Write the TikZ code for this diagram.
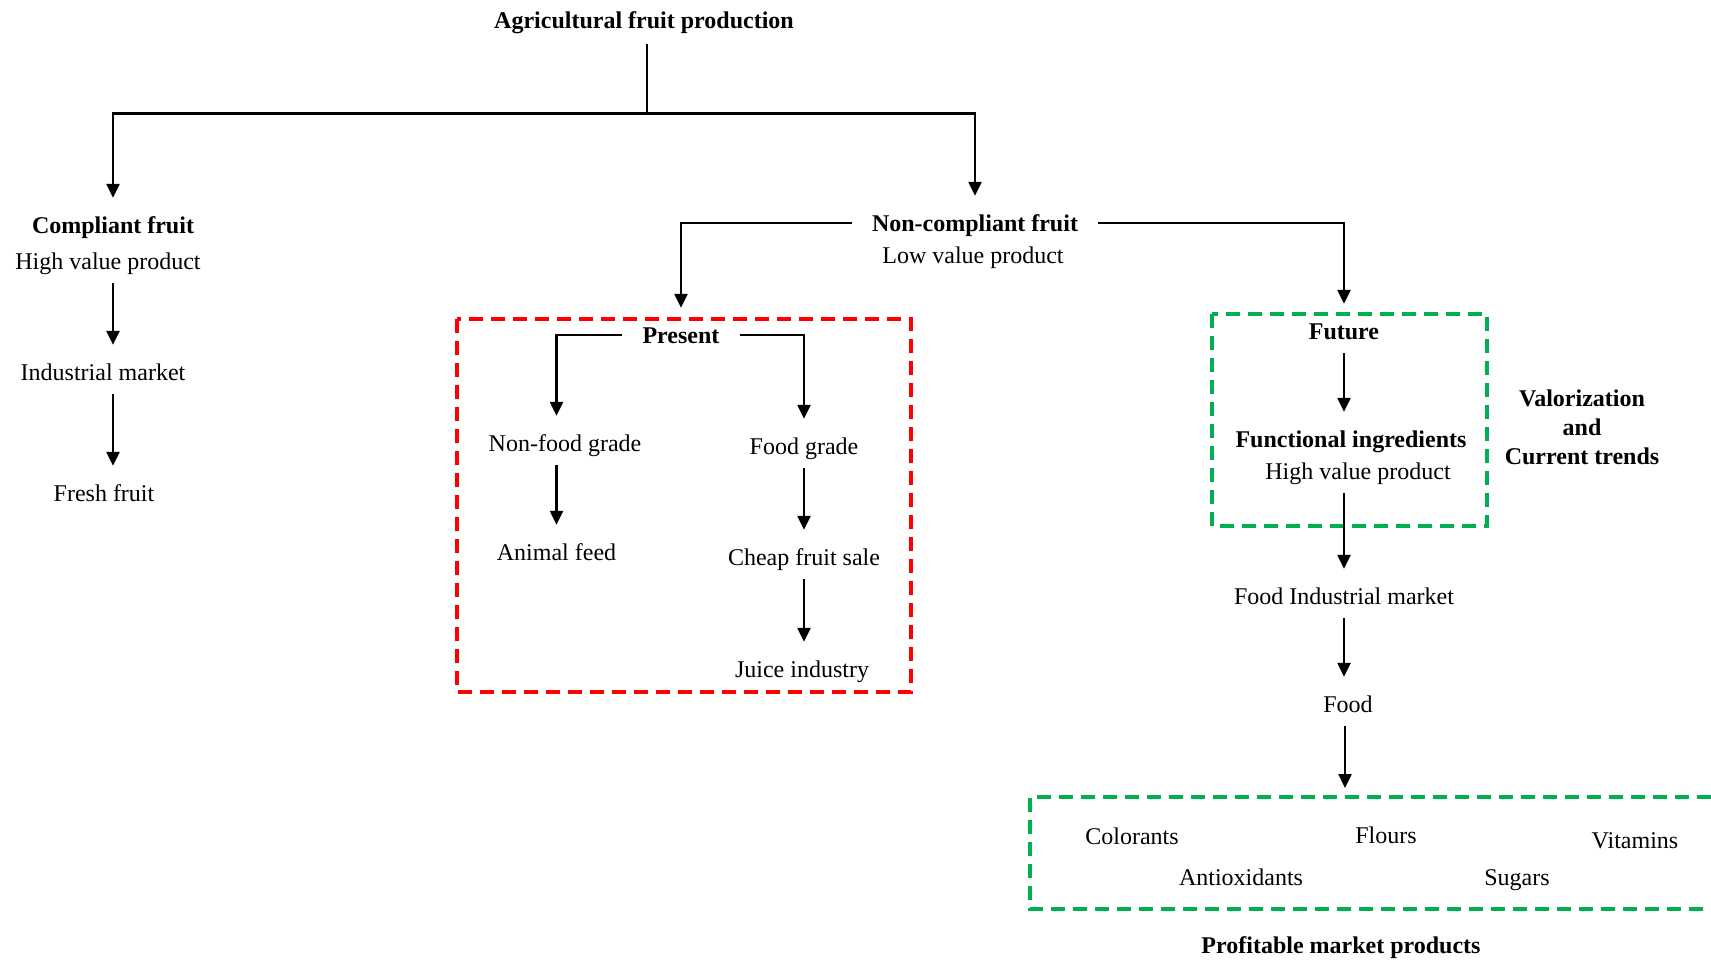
\documentclass[tikz,border=0pt]{standalone}
\usepackage{fontspec}
\setmainfont{Liberation Serif}
\usetikzlibrary{arrows.meta}
\usetikzlibrary{positioning}
\definecolor{boxgreen}{RGB}{0,176,80}

\begin{document}
\begin{tikzpicture}[x=1pt,y=-1pt,
  lbl/.style={font=\fontsize{24}{28}\selectfont,inner sep=0pt,text height=19pt,text depth=3pt},
  hdr/.style={lbl,font=\fontsize{24}{28}\selectfont\bfseries},
  flow/.style={line width=2.4pt,-{Triangle[length=14pt,width=13pt]},shorten <=11pt,shorten >=16pt},
  branch/.style={flow,shorten <=20pt},
  redbox/.style={draw=red,line width=3.5pt,dash pattern=on 14pt off 8pt},
  greenbox/.style={draw=boxgreen,line width=3.5pt,dash pattern=on 14pt off 8pt}]
\useasboundingbox (0,0) rectangle (1711,961);

% top of the tree
\node[hdr] (agri) at (644,20) {Agricultural fruit production};
\coordinate (fork) at (647,113.5);
\node[hdr] (comp) at (113,225) {Compliant fruit};
\node[hdr] (noncomp) at (975,223) {Non-compliant fruit};
\draw[line width=2.4pt,shorten <=13pt] (agri.south -| fork) -- (fork);
\draw[flow,shorten <=0pt] (fork) -| (comp);
\draw[flow,shorten <=0pt] (fork) -| (noncomp);

% compliant fruit
\node[lbl] (hvpa) at (108,261) {High value product};
\node[lbl] (indm) at (103,372) {Industrial market};
\node[lbl] (fresh) at (104,493) {Fresh fruit};
\draw[flow] (hvpa.south -| comp) -- (indm.north -| comp);
\draw[flow] (indm.south -| comp) -- (fresh.north -| comp);

% non-compliant fruit
\node[lbl] (lowval) at (973,255) {Low value product};
\node[hdr] (pres) at (681,335) {Present};
\node[hdr] (fut) at (1344,331) {Future};
\draw[branch] (noncomp.west) -| (pres);
\draw[branch] (noncomp.east) -| (fut);

% present
\draw[redbox] (457,319) rectangle (911,692);
\node[lbl] (nfg) at (565,443) {Non-food grade};
\node[lbl] (anim) at (556.5,552) {Animal feed};
\node[lbl] (fgr) at (804,446) {Food grade};
\node[lbl] (cfs) at (804,557) {Cheap fruit sale};
\node[lbl] (jui) at (802,669) {Juice industry};
\draw[branch] (pres.west) -| (anim |- nfg.north);
\draw[branch] (pres.east) -| (fgr);
\draw[flow] (nfg.south -| anim) -- (anim);
\draw[flow] (fgr) -- (cfs);
\draw[flow] (cfs.south) -- (cfs.south |- jui.north);

% future
\draw[greenbox] (1212,314) rectangle (1487,526);
\node[hdr] (func) at (1351,439) {Functional ingredients};
\node[lbl] (hvpb) at (1358,471) {High value product};
\node[hdr,text height=,text depth=,align=center,font=\fontsize{24}{29}\selectfont\bfseries] (valor) at (1582,427) {Valorization\\and\\Current trends};
\node[lbl] (fim) at (1344,596) {Food Industrial market};
\node[lbl] (food) at (1348,704) {Food};
\draw[flow] (fut) -- (fut |- func.north);
\draw[flow] (hvpb.south -| fim) -- (fim);
\draw[flow] (fim.south) -- (fim.south |- food.north);
\coordinate (prodtop) at (1345,797);
\draw[flow,shorten >=9pt] (food.south -| prodtop) -- (prodtop);

% products
\draw[greenbox] (1711,797) -- (1030,797) -- (1030,909) -- (1711,909);
\node[lbl] (color) at (1132,836) {Colorants};
\node[lbl] (flour) at (1386,835) {Flours};
\node[lbl] (vitam) at (1635,840) {Vitamins};
\node[lbl] (antiox) at (1241,877) {Antioxidants};
\node[lbl] (sugar) at (1517,877) {Sugars};
\node[hdr] (profit) at (1341,945) {Profitable market products};

\end{tikzpicture}
\end{document}
